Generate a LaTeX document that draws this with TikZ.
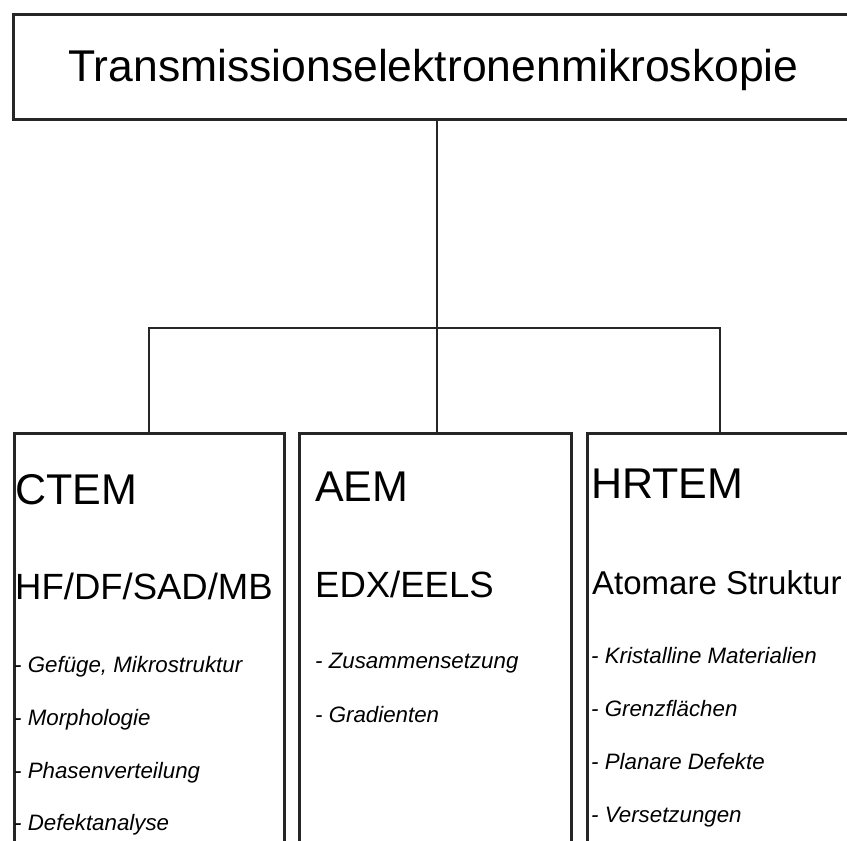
\documentclass[tikz,border=0pt]{standalone}
\usepackage{fontspec}
\setmainfont{Liberation Sans}
\begin{document}
\begin{tikzpicture}[x=1pt,y=-1pt,
  box/.style={draw=black!85,line width=2.7pt,fill=white,rectangle,inner sep=0pt,anchor=north west},
  conn/.style={draw=black!85,line width=2.7pt},
  head/.style={anchor=base west,inner sep=0pt,font=\fontsize{43}{50}\selectfont},
  sub/.style={anchor=base west,inner sep=0pt,font=\fontsize{36.5}{42}\selectfont},
  item/.style={anchor=base west,inner sep=0pt,font=\fontsize{22.3}{26}\selectfont\itshape},
  ttl/.style={anchor=base west,inner sep=0pt,font=\fontsize{44.5}{50}\selectfont}]
\useasboundingbox (0,0) rectangle (847,841);
\clip (0,0) rectangle (847,841);
\fill[white] (0,0) rectangle (847,841);
% boxes
\node[box,minimum width=850pt,minimum height=105pt] (top) at (12,13) {};
\node[box,minimum width=270pt,minimum height=450pt] (ctem) at (13,432) {};
\node[box,minimum width=272pt,minimum height=450pt] (aem) at (298,432) {};
\node[box,minimum width=268pt,minimum height=450pt] (hrtem) at (586,432) {};
% connectors
\coordinate (bar) at (437,328);
\draw[conn] (top.south -| bar) -- (bar) -- (bar |- aem.north);
\draw[conn] (ctem.north -| 149,0) -- (149,328) -- (720,328) -- (hrtem.north -| 720,0);
% title
\node[ttl] (t0) at (68,81) {Transmissionselektronenmikroskopie};
% CTEM
\node[head] (c1) at (15,504) {CTEM};
\node[sub] (c2) at (15,599) {HF/DF/SAD/MB};
\node[item] (c3) at (14,672) {- Gefüge, Mikrostruktur};
\node[item] (c4) at (14,725) {- Morphologie};
\node[item] (c5) at (14,778) {- Phasenverteilung};
\node[item] (c6) at (14,830) {- Defektanalyse};
% AEM
\node[head] (a1) at (315,501) {AEM};
\node[sub] (a2) at (315,597) {EDX/EELS};
\node[item] (a3) at (315,668) {- Zusammensetzung};
\node[item] (a4) at (315,722) {- Gradienten};
% HRTEM
\node[head] (h1) at (591,498) {HRTEM};
\node[sub,font=\fontsize{33}{40}\selectfont] (h2) at (592,594) {Atomare Struktur};
\node[item] (h3) at (591,663) {- Kristalline Materialien};
\node[item] (h4) at (591,716) {- Grenzflächen};
\node[item] (h5) at (591,769) {- Planare Defekte};
\node[item] (h6) at (591,822) {- Versetzungen};
\end{tikzpicture}
\end{document}
